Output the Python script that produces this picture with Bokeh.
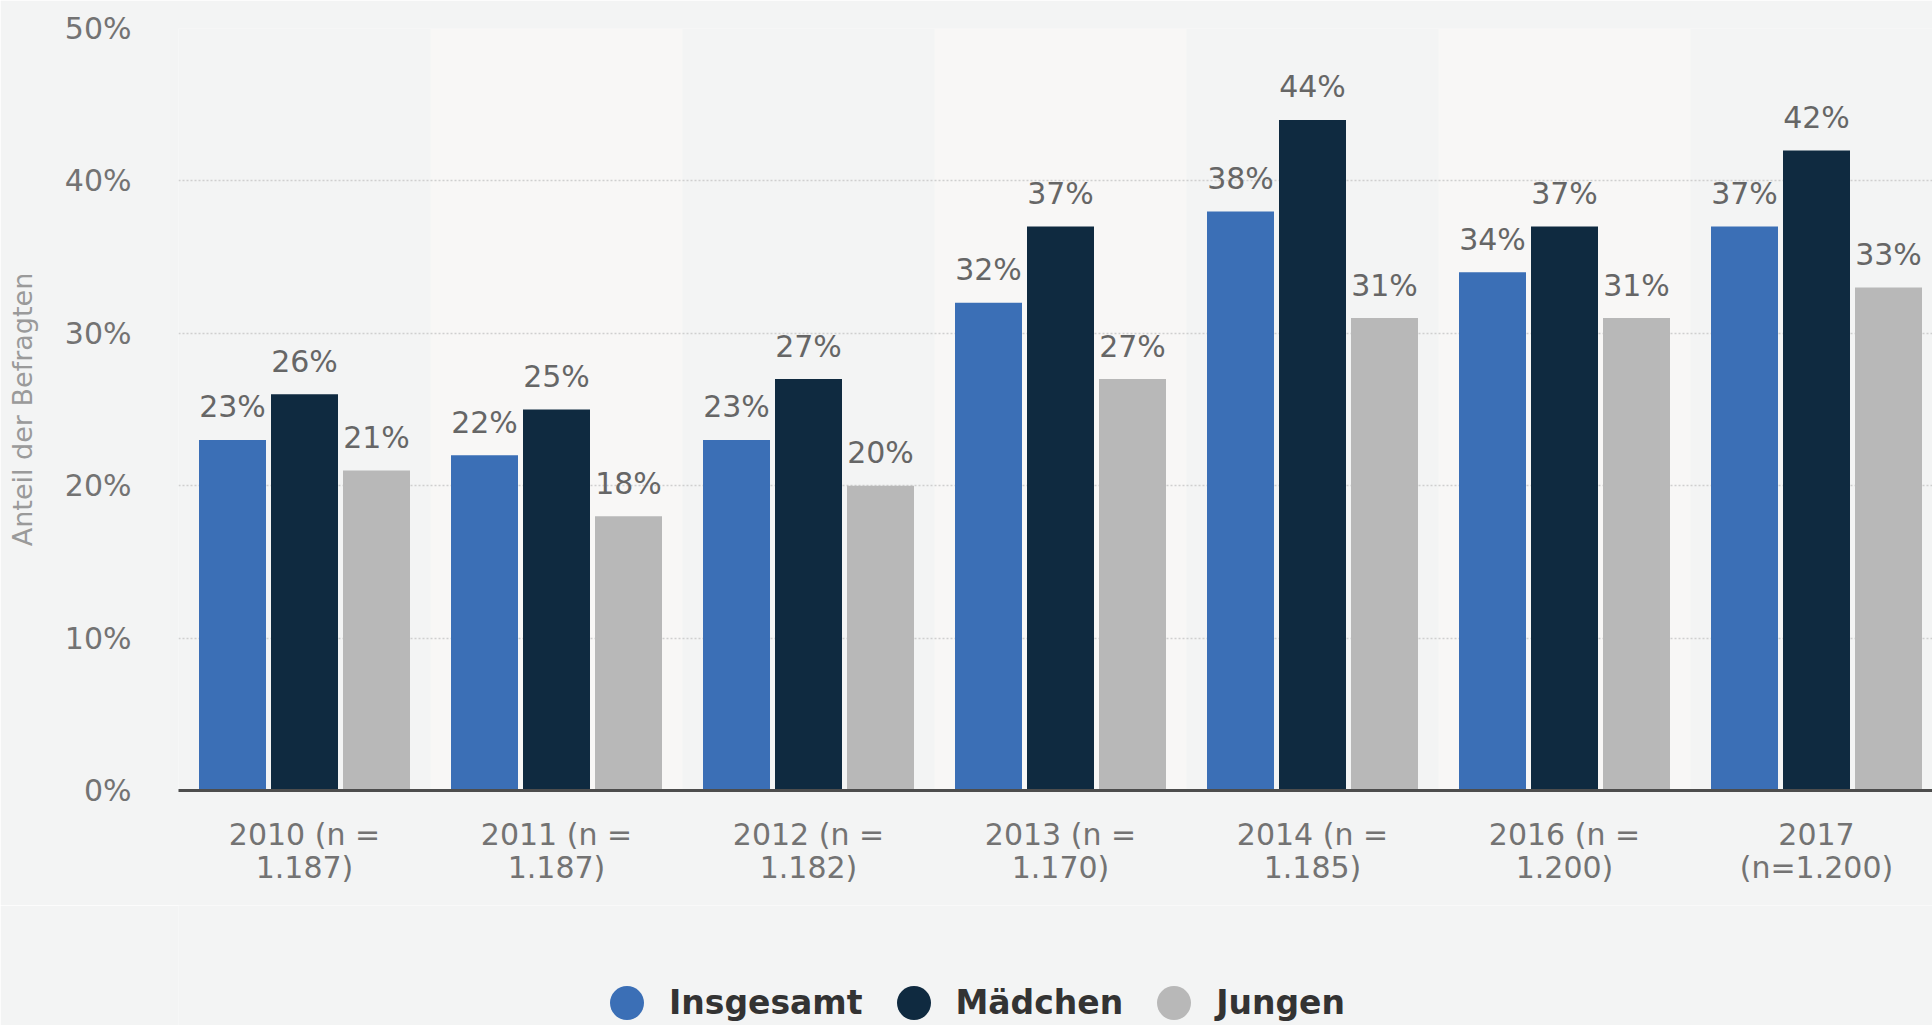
import numpy as np
from bokeh.plotting import figure
from bokeh.layouts import column
from bokeh.models import ColumnDataSource, FixedTicker, Range1d, Legend, LegendItem, BoxAnnotation
from bokeh.transform import dodge
from bokeh.embed import file_html
from bokeh.resources import INLINE
from bokeh.core.properties import value

# ---- data ----
years = ["2010", "2011", "2012", "2013", "2014", "2016", "2017"]
tick_labels = ["2010 (n =\n1.187)", "2011 (n =\n1.187)", "2012 (n =\n1.182)",
               "2013 (n =\n1.170)", "2014 (n =\n1.185)", "2016 (n =\n1.200)",
               "2017\n(n=1.200)"]
insgesamt = [23, 22, 23, 32, 38, 34, 37]
maedchen = [26, 25, 27, 37, 44, 37, 42]
jungen = [21, 18, 20, 27, 31, 31, 33]
series_names = ["Insgesamt", "Mädchen", "Jungen"]
y_ticks = [0, 10, 20, 30, 40, 50]

colors = ["#3b6fb6", "#0f2a40", "#b8b8b8"]
FONT = "DejaVu Sans"
BG = "#f3f4f4"

idx = list(range(len(years)))
src = ColumnDataSource(dict(
    x=idx,
    ins=insgesamt, mae=maedchen, jun=jungen,
    ins_l=[f"{v}%" for v in insgesamt],
    mae_l=[f"{v}%" for v in maedchen],
    jun_l=[f"{v}%" for v in jungen],
))

W = 1932
H_MAIN, H_LEG = 905, 120
LEFT, TOP = 178, 28
BOTTOM = H_MAIN - 790
STEP = 252.0
p = figure(width=W, height=H_MAIN, output_backend="svg", toolbar_location=None,
           x_range=Range1d(-0.5, -0.5 + (W - LEFT) / STEP), y_range=Range1d(0, 50),
           min_border_left=LEFT, min_border_right=0, min_border_top=TOP,
           min_border_bottom=BOTTOM)
p.background_fill_color = BG
p.border_fill_color = BG
p.outline_line_color = None

# alternating column bands
for i in idx:
    if i % 2 == 1:
        p.add_layout(BoxAnnotation(left=i - 0.5, right=i + 0.5, bottom=0, top=50,
                                   fill_color="#f8f7f6", fill_alpha=1.0,
                                   line_color=None, level="image"))

bw = 67 / STEP
off = 72 / STEP
keys = [("ins", "ins_l"), ("mae", "mae_l"), ("jun", "jun_l")]
offsets = [-off, 0.0, off]
for (k, kl), o, c in zip(keys, offsets, colors):
    p.vbar(x=dodge("x", o, range=p.x_range), top=k, width=bw, bottom=0,
           source=src, fill_color=c, line_color=None)
    p.text(x=dodge("x", o, range=p.x_range), y=k, text=kl, source=src,
           text_align="center", text_baseline="alphabetic", y_offset=-33,
           text_font=value(FONT), text_font_size="30px", text_color="#666666")

# axes
p.xaxis.ticker = FixedTicker(ticks=idx)
p.xaxis.major_label_overrides = {i: t for i, t in zip(idx, tick_labels)}
p.xaxis.axis_line_color = "#4d4d4d"
p.xaxis.axis_line_width = 3
p.xaxis.major_tick_line_color = None
p.xaxis.minor_tick_line_color = None
p.xaxis.major_label_standoff = 20
p.xaxis.major_label_text_font = FONT
p.xaxis.major_label_text_font_size = "30px"
p.xaxis.major_label_text_color = "#737373"
p.xaxis.major_label_text_line_height = 0.95

p.yaxis.ticker = FixedTicker(ticks=y_ticks)
p.yaxis.major_label_overrides = {t: f"{t}%" for t in y_ticks}
p.yaxis.axis_line_color = None
p.yaxis.major_tick_line_color = None
p.yaxis.minor_tick_line_color = None
p.yaxis.major_label_standoff = 41
p.yaxis.major_label_text_font = FONT
p.yaxis.major_label_text_font_size = "30px"
p.yaxis.major_label_text_color = "#737373"
p.yaxis.axis_label = "Anteil der Befragten"
p.yaxis.axis_label_text_font = FONT
p.yaxis.axis_label_text_font_style = "normal"
p.yaxis.axis_label_text_font_size = "27px"
p.yaxis.axis_label_text_color = "#9a9a9a"
p.yaxis.axis_label_standoff = 24

p.xgrid.grid_line_color = None
p.ygrid.grid_line_color = "#cfcfcf"
p.ygrid.grid_line_width = 1.5
p.ygrid.grid_line_dash = "2 2"

# legend strip (separate figure so the legend is not clipped)
leg = figure(width=W, height=H_LEG, output_backend="svg", toolbar_location=None,
             x_range=Range1d(0, 1), y_range=Range1d(0, 1),
             x_axis_location=None, y_axis_location=None,
             min_border=0)
leg.background_fill_color = BG
leg.border_fill_color = BG
leg.outline_line_color = None
leg.grid.visible = False
items = []
for name, c in zip(series_names, colors):
    # NaN point: nothing drawn in the strip, but the legend gets a glyph to draw
    r = leg.scatter(x=[np.nan], y=[np.nan], marker="circle", size=34,
                    fill_color=c, line_color=None)
    items.append(LegendItem(label=name, renderers=[r]))
legend = Legend(items=items, orientation="horizontal", location=(406, -20),
                glyph_width=85, glyph_height=85, label_standoff=0, spacing=8,
                padding=0, margin=0, border_line_color=None, background_fill_alpha=0,
                label_text_font=FONT, label_text_font_style="bold",
                label_text_font_size="33px", label_text_color="#333333")
leg.add_layout(legend, "center")

layout = column(p, leg, spacing=0)
html = file_html(layout, INLINE)
html = html.replace("<body>", '<body style="background:#f3f4f4">', 1)
open("out.html", "w").write(html)
